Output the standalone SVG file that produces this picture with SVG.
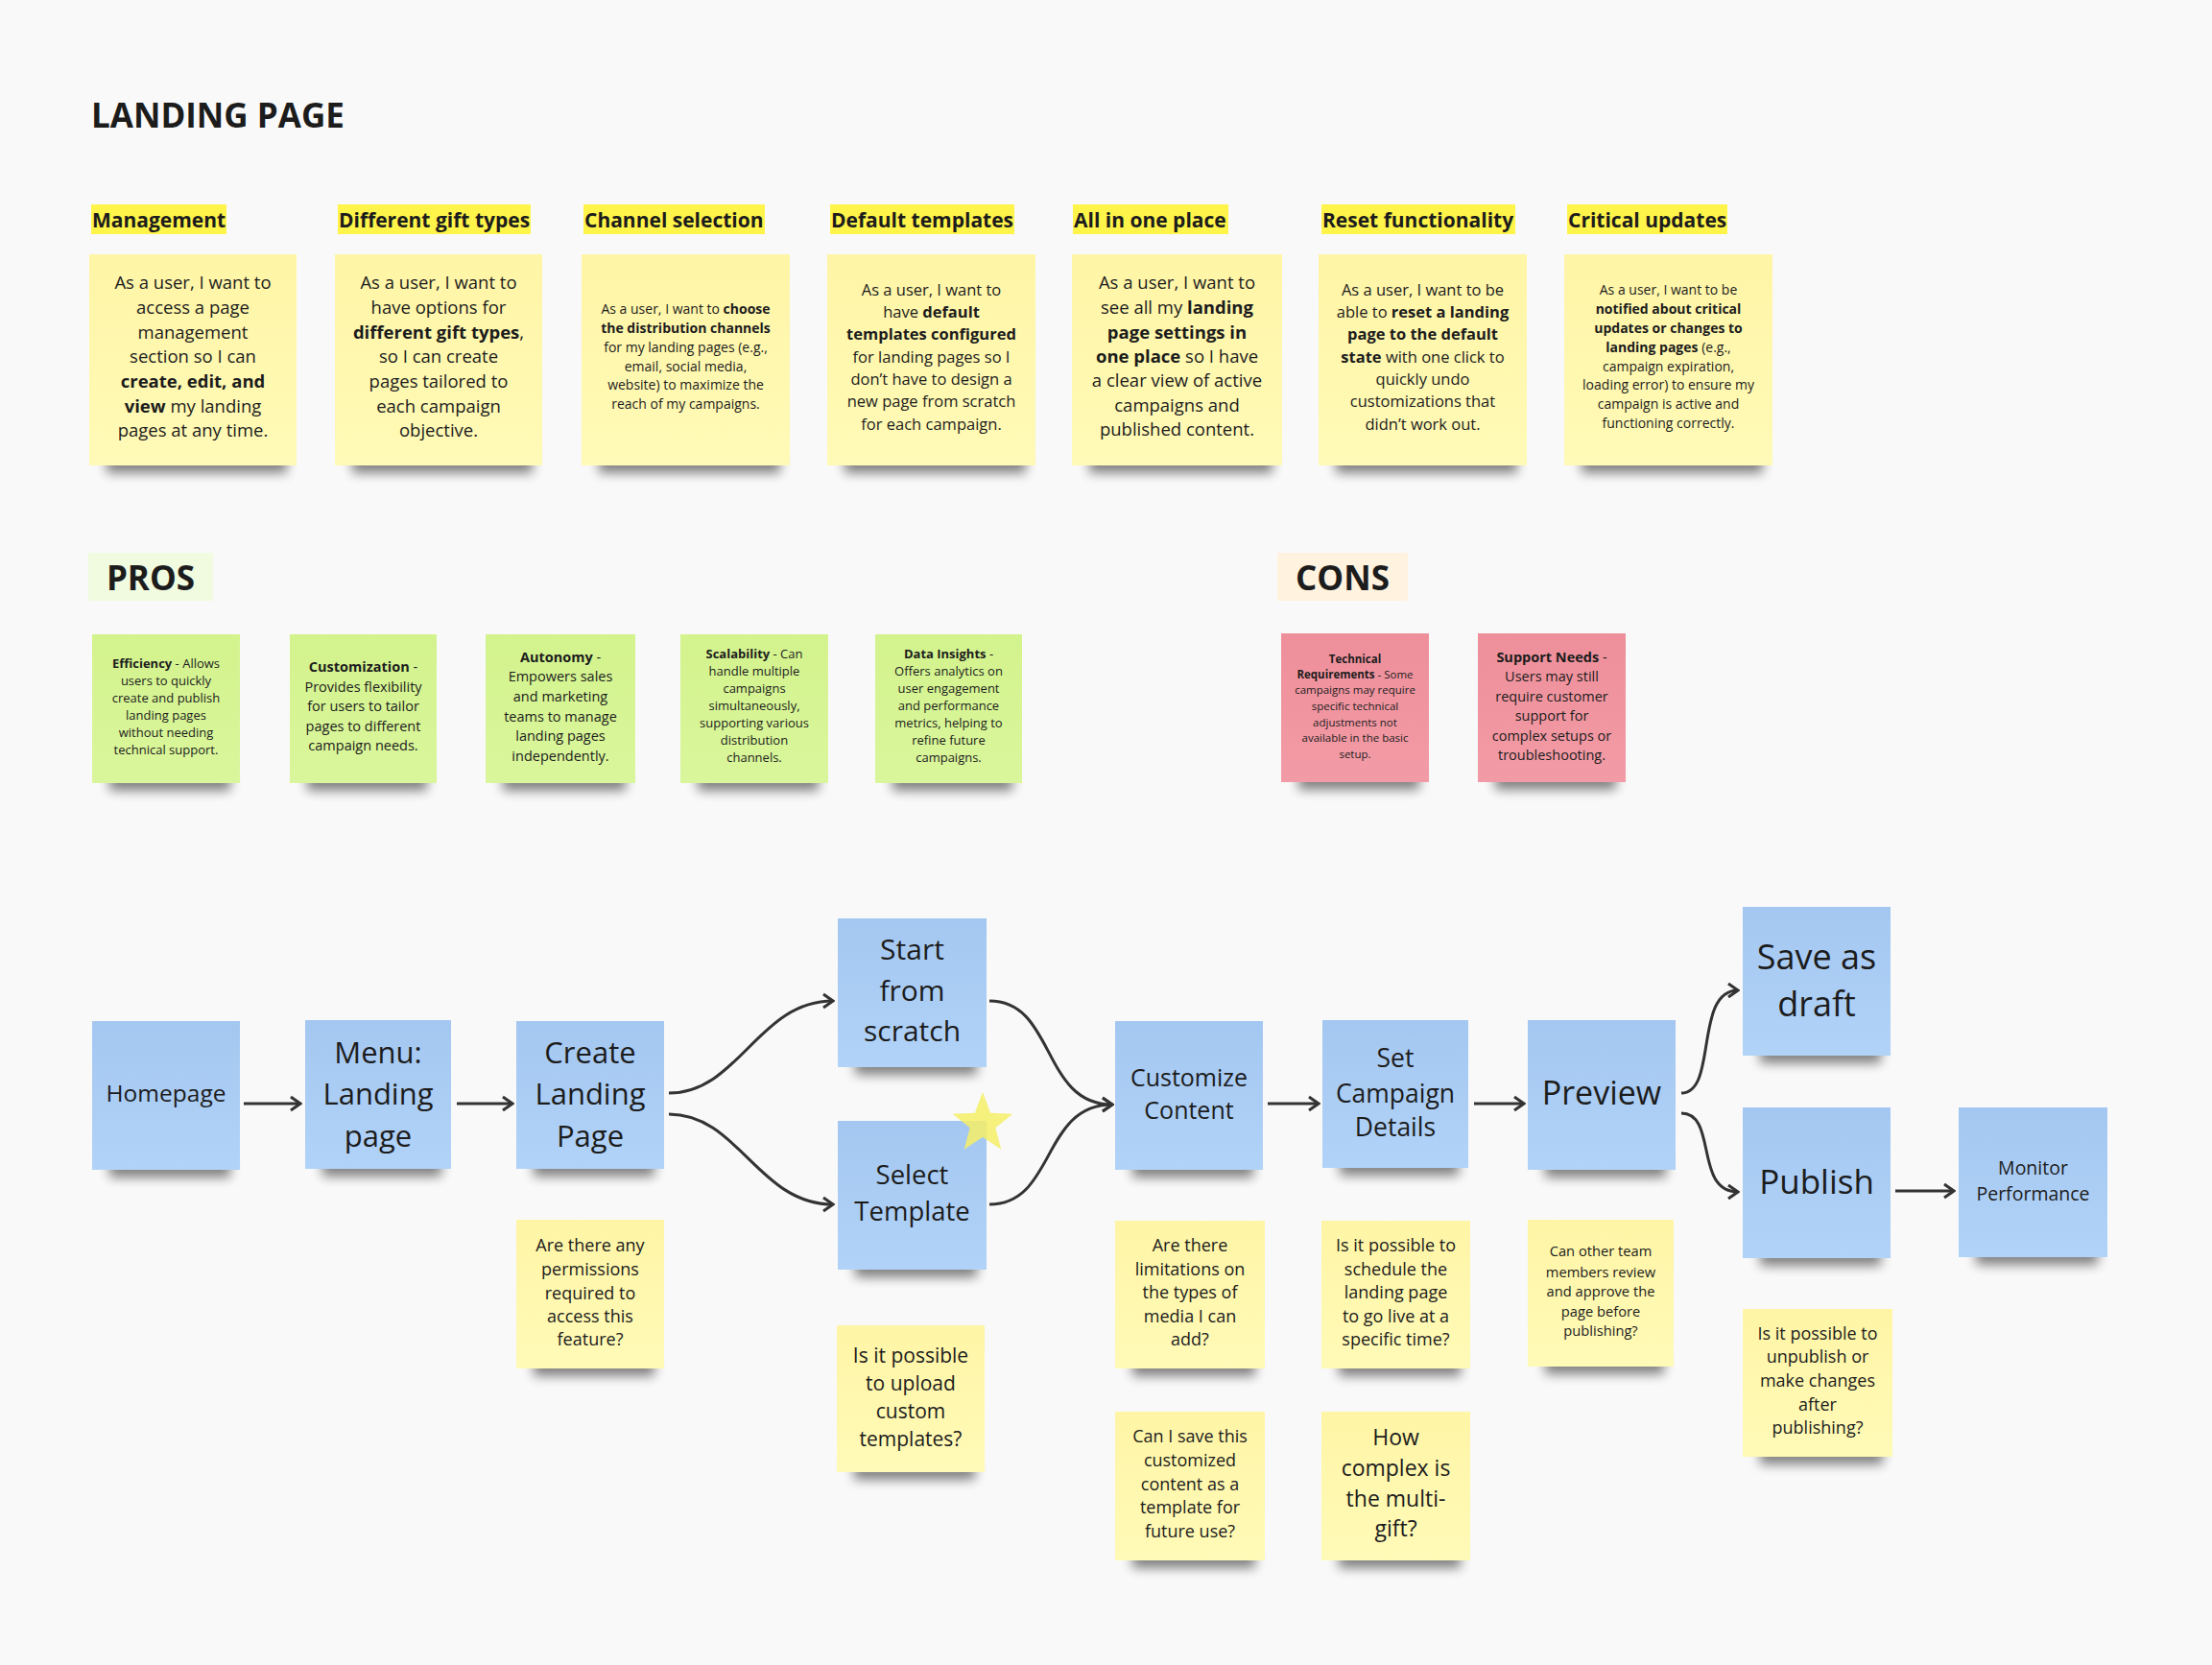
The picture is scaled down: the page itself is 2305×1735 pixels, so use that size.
<svg xmlns="http://www.w3.org/2000/svg" width="2305" height="1735" viewBox="0 0 2305 1735">
<defs>
<style>
.t{font-family:"Open Sans","Noto Sans","Liberation Sans",sans-serif;fill:#1c1c1c;text-anchor:middle}
.h{font-family:"Open Sans","Noto Sans","Liberation Sans",sans-serif;fill:#1c1c1c;font-weight:700}
.b{font-weight:700}
.shd{fill:#000;opacity:.48;filter:url(#blur)}
.cy{fill:url(#gy)}
.cb{fill:url(#gb)}
.cg{fill:url(#gg)}
.cp{fill:url(#gp)}
.hl{fill:#fff44a}
.conn path{fill:none;stroke:#333;stroke-width:3;marker-end:url(#ah)}
</style>
<filter id="blur" x="-20%" y="-150%" width="140%" height="400%"><feGaussianBlur stdDeviation="6"/></filter>
<linearGradient id="gy" x1="0" y1="0" x2="0" y2="1"><stop offset="0" stop-color="#fff5a6"/><stop offset="1" stop-color="#fffab7"/></linearGradient>
<linearGradient id="gb" x1="0" y1="0" x2="0" y2="1"><stop offset="0" stop-color="#a4c7f1"/><stop offset="1" stop-color="#b1d3f8"/></linearGradient>
<linearGradient id="gg" x1="0" y1="0" x2="0" y2="1"><stop offset="0" stop-color="#d3f38d"/><stop offset="1" stop-color="#daf69c"/></linearGradient>
<linearGradient id="gp" x1="0" y1="0" x2="0" y2="1"><stop offset="0" stop-color="#ee8f9a"/><stop offset="1" stop-color="#f29ba6"/></linearGradient>
<marker id="ah" markerUnits="userSpaceOnUse" viewBox="0 0 14 18" refX="12" refY="9" markerWidth="14" markerHeight="18" orient="auto"><path d="M2,2 L12,9 L2,16" fill="none" stroke="#333" stroke-width="3"/></marker>
</defs>
<rect width="2305" height="1735" fill="#f9f9f9"/>

<g id="title"><text class="h" x="95" y="133" font-size="35">LANDING PAGE</text></g>

<g id="headers" font-size="21">
<g id="h-management"><rect class="hl" x="95" y="213" width="141" height="31"/><text class="h" x="96" y="237" font-size="21">Management</text></g>
<g id="h-gifts"><rect class="hl" x="352" y="213" width="201" height="31"/><text class="h" x="353" y="237" font-size="21">Different gift types</text></g>
<g id="h-channel"><rect class="hl" x="608" y="213" width="189" height="31"/><text class="h" x="609" y="237" font-size="21">Channel selection</text></g>
<g id="h-default"><rect class="hl" x="865" y="213" width="192" height="31"/><text class="h" x="866" y="237" font-size="21">Default templates</text></g>
<g id="h-allinone"><rect class="hl" x="1118" y="213" width="162" height="31"/><text class="h" x="1119" y="237" font-size="21">All in one place</text></g>
<g id="h-reset"><rect class="hl" x="1377" y="213" width="202" height="31"/><text class="h" x="1378" y="237" font-size="21">Reset functionality</text></g>
<g id="h-critical"><rect class="hl" x="1633" y="213" width="167" height="31"/><text class="h" x="1634" y="237" font-size="21">Critical updates</text></g>
</g>

<g id="story-management"><rect class="shd" x="111" y="473" width="188" height="20"/><rect class="cy" x="93" y="265" width="216" height="220"/>
<text class="t" font-size="18.5"><tspan x="201" y="301">As a user, I want to</tspan><tspan x="201" y="327">access a page</tspan><tspan x="201" y="353">management</tspan><tspan x="201" y="378">section so I can</tspan><tspan x="201" y="404" class="b">create, edit, and</tspan><tspan x="201" y="430"><tspan class="b">view</tspan> my landing</tspan><tspan x="201" y="455">pages at any time.</tspan></text></g>

<g id="story-gifts"><rect class="shd" x="367" y="473" width="188" height="20"/><rect class="cy" x="349" y="265" width="216" height="220"/>
<text class="t" font-size="18.5"><tspan x="457" y="301">As a user, I want to</tspan><tspan x="457" y="327">have options for</tspan><tspan x="457" y="353"><tspan class="b">different gift types</tspan>,</tspan><tspan x="457" y="378">so I can create</tspan><tspan x="457" y="404">pages tailored to</tspan><tspan x="457" y="430">each campaign</tspan><tspan x="457" y="455">objective.</tspan></text></g>

<g id="story-channel"><rect class="shd" x="624" y="473" width="189" height="20"/><rect class="cy" x="606" y="265" width="217" height="220"/>
<text class="t" font-size="14"><tspan x="714.5" y="327">As a user, I want to <tspan class="b">choose</tspan></tspan><tspan x="714.5" y="347" class="b">the distribution channels</tspan><tspan x="714.5" y="367">for my landing pages (e.g.,</tspan><tspan x="714.5" y="386.5">email, social media,</tspan><tspan x="714.5" y="406">website) to maximize the</tspan><tspan x="714.5" y="426">reach of my campaigns.</tspan></text></g>

<g id="story-default"><rect class="shd" x="880" y="473" width="189" height="20"/><rect class="cy" x="862" y="265" width="217" height="220"/>
<text class="t" font-size="16.5"><tspan x="970.5" y="307.5">As a user, I want to</tspan><tspan x="970.5" y="331">have <tspan class="b">default</tspan></tspan><tspan x="970.5" y="354" class="b">templates configured</tspan><tspan x="970.5" y="377.5">for landing pages so I</tspan><tspan x="970.5" y="401">don’t have to design a</tspan><tspan x="970.5" y="424">new page from scratch</tspan><tspan x="970.5" y="447.5">for each campaign.</tspan></text></g>

<g id="story-allinone"><rect class="shd" x="1135" y="473" width="191" height="20"/><rect class="cy" x="1117" y="265" width="219" height="220"/>
<text class="t" font-size="18.5"><tspan x="1226.5" y="301">As a user, I want to</tspan><tspan x="1226.5" y="327">see all my <tspan class="b">landing</tspan></tspan><tspan x="1226.5" y="353" class="b">page settings in</tspan><tspan x="1226.5" y="378"><tspan class="b">one place</tspan> so I have</tspan><tspan x="1226.5" y="403">a clear view of active</tspan><tspan x="1226.5" y="429">campaigns and</tspan><tspan x="1226.5" y="454">published content.</tspan></text></g>

<g id="story-reset"><rect class="shd" x="1392" y="473" width="189" height="20"/><rect class="cy" x="1374" y="265" width="217" height="220"/>
<text class="t" font-size="16.5"><tspan x="1482.5" y="307.5">As a user, I want to be</tspan><tspan x="1482.5" y="331">able to <tspan class="b">reset a landing</tspan></tspan><tspan x="1482.5" y="354" class="b">page to the default</tspan><tspan x="1482.5" y="378"><tspan class="b">state</tspan> with one click to</tspan><tspan x="1482.5" y="401">quickly undo</tspan><tspan x="1482.5" y="424">customizations that</tspan><tspan x="1482.5" y="448">didn’t work out.</tspan></text></g>

<g id="story-critical"><rect class="shd" x="1648" y="473" width="189" height="20"/><rect class="cy" x="1630" y="265" width="217" height="220"/>
<text class="t" font-size="14"><tspan x="1738.5" y="307">As a user, I want to be</tspan><tspan x="1738.5" y="327" class="b">notified about critical</tspan><tspan x="1738.5" y="347" class="b">updates or changes to</tspan><tspan x="1738.5" y="367"><tspan class="b">landing pages</tspan> (e.g.,</tspan><tspan x="1738.5" y="386.5">campaign expiration,</tspan><tspan x="1738.5" y="406">loading error) to ensure my</tspan><tspan x="1738.5" y="426">campaign is active and</tspan><tspan x="1738.5" y="446">functioning correctly.</tspan></text></g>

<g id="pros-label"><rect x="92" y="576" width="130" height="50" fill="#f0fbdf"/><text class="t b" x="157" y="615" font-size="35">PROS</text></g>
<g id="cons-label"><rect x="1331" y="576" width="136" height="50" fill="#fff3e0"/><text class="t b" x="1399" y="615" font-size="35">CONS</text></g>

<g id="pro-efficiency"><rect class="shd" x="114" y="804" width="126" height="20"/><rect class="cg" x="96" y="661" width="154" height="155"/>
<text class="t" font-size="13"><tspan x="173" y="696"><tspan class="b">Efficiency</tspan> - Allows</tspan><tspan x="173" y="714">users to quickly</tspan><tspan x="173" y="732">create and publish</tspan><tspan x="173" y="750">landing pages</tspan><tspan x="173" y="768">without needing</tspan><tspan x="173" y="786">technical support.</tspan></text></g>

<g id="pro-customization"><rect class="shd" x="320" y="804" width="125" height="20"/><rect class="cg" x="302" y="661" width="153" height="155"/>
<text class="t" font-size="14.5"><tspan x="378.5" y="700"><tspan class="b">Customization</tspan> -</tspan><tspan x="378.5" y="721">Provides flexibility</tspan><tspan x="378.5" y="741">for users to tailor</tspan><tspan x="378.5" y="762">pages to different</tspan><tspan x="378.5" y="782">campaign needs.</tspan></text></g>

<g id="pro-autonomy"><rect class="shd" x="524" y="804" width="128" height="20"/><rect class="cg" x="506" y="661" width="156" height="155"/>
<text class="t" font-size="14.5"><tspan x="584" y="690"><tspan class="b">Autonomy</tspan> -</tspan><tspan x="584" y="710">Empowers sales</tspan><tspan x="584" y="730.5">and marketing</tspan><tspan x="584" y="751.5">teams to manage</tspan><tspan x="584" y="772">landing pages</tspan><tspan x="584" y="792.5">independently.</tspan></text></g>

<g id="pro-scalability"><rect class="shd" x="727" y="804" width="126" height="20"/><rect class="cg" x="709" y="661" width="154" height="155"/>
<text class="t" font-size="13"><tspan x="786" y="686"><tspan class="b">Scalability</tspan> - Can</tspan><tspan x="786" y="704">handle multiple</tspan><tspan x="786" y="722">campaigns</tspan><tspan x="786" y="740">simultaneously,</tspan><tspan x="786" y="758">supporting various</tspan><tspan x="786" y="776">distribution</tspan><tspan x="786" y="794">channels.</tspan></text></g>

<g id="pro-insights"><rect class="shd" x="930" y="804" width="125" height="20"/><rect class="cg" x="912" y="661" width="153" height="155"/>
<text class="t" font-size="13"><tspan x="988.5" y="686"><tspan class="b">Data Insights</tspan> -</tspan><tspan x="988.5" y="704">Offers analytics on</tspan><tspan x="988.5" y="722">user engagement</tspan><tspan x="988.5" y="740">and performance</tspan><tspan x="988.5" y="758">metrics, helping to</tspan><tspan x="988.5" y="776">refine future</tspan><tspan x="988.5" y="794">campaigns.</tspan></text></g>

<g id="con-technical"><rect class="shd" x="1353" y="803" width="126" height="20"/><rect class="cp" x="1335" y="660" width="154" height="155"/>
<text class="t" font-size="11.5"><tspan x="1412" y="690.5" class="b">Technical</tspan><tspan x="1412" y="706.5"><tspan class="b">Requirements</tspan> - Some</tspan><tspan x="1412" y="723">campaigns may require</tspan><tspan x="1412" y="740">specific technical</tspan><tspan x="1412" y="756.5">adjustments not</tspan><tspan x="1412" y="773">available in the basic</tspan><tspan x="1412" y="790">setup.</tspan></text></g>

<g id="con-support"><rect class="shd" x="1558" y="803" width="126" height="20"/><rect class="cp" x="1540" y="660" width="154" height="155"/>
<text class="t" font-size="14.5"><tspan x="1617" y="690"><tspan class="b">Support Needs</tspan> -</tspan><tspan x="1617" y="710">Users may still</tspan><tspan x="1617" y="730.5">require customer</tspan><tspan x="1617" y="751">support for</tspan><tspan x="1617" y="771.5">complex setups or</tspan><tspan x="1617" y="791.5">troubleshooting.</tspan></text></g>

<g id="connectors" class="conn">
<path d="M254,1150 H313"/>
<path d="M476,1150 H534"/>
<path d="M697,1139 C770,1139 790,1043 868,1043"/>
<path d="M697,1161 C770,1161 790,1255 868,1255"/>
<path d="M1031,1043 C1100,1043 1085,1151 1159,1151"/>
<path d="M1031,1255 C1100,1255 1085,1151 1159,1151"/>
<path d="M1321,1150 H1374"/>
<path d="M1536,1150 H1588"/>
<path d="M1752,1139 C1790,1139 1765,1032 1811,1032"/>
<path d="M1752,1160 C1790,1160 1765,1242 1811,1242"/>
<path d="M1975,1241 H2036"/>
</g>

<g id="n-homepage"><rect class="shd" x="114" y="1207" width="126" height="20"/><rect class="cb" x="96" y="1064" width="154" height="155"/><text class="t" x="173" y="1148" font-size="24.5">Homepage</text></g>
<g id="n-menu"><rect class="shd" x="336" y="1206" width="124" height="20"/><rect class="cb" x="318" y="1063" width="152" height="155"/><text class="t" font-size="31"><tspan x="394" y="1107.5">Menu:</tspan><tspan x="394" y="1151">Landing</tspan><tspan x="394" y="1194.5">page</tspan></text></g>
<g id="n-create"><rect class="shd" x="556" y="1206" width="126" height="20"/><rect class="cb" x="538" y="1064" width="154" height="154"/><text class="t" font-size="31"><tspan x="615" y="1107.5">Create</tspan><tspan x="615" y="1151">Landing</tspan><tspan x="615" y="1194.5">Page</tspan></text></g>
<g id="n-scratch"><rect class="shd" x="891" y="1100" width="127" height="20"/><rect class="cb" x="873" y="957" width="155" height="155"/><text class="t" font-size="30"><tspan x="950.5" y="1000">Start</tspan><tspan x="950.5" y="1043">from</tspan><tspan x="950.5" y="1085">scratch</tspan></text></g>
<g id="n-template"><rect class="shd" x="891" y="1311" width="127" height="20"/><rect class="cb" x="873" y="1168" width="155" height="155"/><text class="t" font-size="27.5"><tspan x="950.5" y="1234">Select</tspan><tspan x="950.5" y="1272">Template</tspan></text></g>
<g id="n-customize"><rect class="shd" x="1180" y="1207" width="126" height="20"/><rect class="cb" x="1162" y="1064" width="154" height="155"/><text class="t" font-size="25"><tspan x="1239" y="1131.5">Customize</tspan><tspan x="1239" y="1165.5">Content</tspan></text></g>
<g id="n-campaign"><rect class="shd" x="1396" y="1205" width="124" height="20"/><rect class="cb" x="1378" y="1063" width="152" height="154"/><text class="t" font-size="26.5"><tspan x="1454" y="1112">Set</tspan><tspan x="1454" y="1149">Campaign</tspan><tspan x="1454" y="1184">Details</tspan></text></g>
<g id="n-preview"><rect class="shd" x="1610" y="1207" width="126" height="20"/><rect class="cb" x="1592" y="1063" width="154" height="156"/><text class="t" x="1669" y="1151" font-size="34">Preview</text></g>
<g id="n-draft"><rect class="shd" x="1834" y="1088" width="126" height="20"/><rect class="cb" x="1816" y="945" width="154" height="155"/><text class="t" font-size="36"><tspan x="1893" y="1010">Save as</tspan><tspan x="1893" y="1059">draft</tspan></text></g>
<g id="n-publish"><rect class="shd" x="1834" y="1299" width="126" height="20"/><rect class="cb" x="1816" y="1154" width="154" height="157"/><text class="t" x="1893" y="1244" font-size="35">Publish</text></g>
<g id="n-monitor"><rect class="shd" x="2059" y="1298" width="127" height="20"/><rect class="cb" x="2041" y="1154" width="155" height="156"/><text class="t" font-size="19.5"><tspan x="2118.5" y="1223.5">Monitor</tspan><tspan x="2118.5" y="1250.5">Performance</tspan></text></g>

<g id="star"><polygon points="1024,1138 1032.2,1159.7 1055.4,1160.8 1037.3,1175.3 1043.4,1197.7 1024,1185 1004.6,1197.7 1010.7,1175.3 992.6,1160.8 1015.8,1159.7" fill="#f6ee66" opacity="0.85"/></g>

<g id="q-permissions"><rect class="shd" x="556" y="1414" width="126" height="20"/><rect class="cy" x="538" y="1271" width="154" height="155"/><text class="t" font-size="18"><tspan x="615" y="1304">Are there any</tspan><tspan x="615" y="1329">permissions</tspan><tspan x="615" y="1354">required to</tspan><tspan x="615" y="1378">access this</tspan><tspan x="615" y="1402">feature?</tspan></text></g>
<g id="q-upload"><rect class="shd" x="890" y="1522" width="126" height="20"/><rect class="cy" x="872" y="1381" width="154" height="153"/><text class="t" font-size="21"><tspan x="949" y="1420">Is it possible</tspan><tspan x="949" y="1449">to upload</tspan><tspan x="949" y="1478">custom</tspan><tspan x="949" y="1507">templates?</tspan></text></g>
<g id="q-media"><rect class="shd" x="1180" y="1414" width="128" height="20"/><rect class="cy" x="1162" y="1272" width="156" height="154"/><text class="t" font-size="18"><tspan x="1240" y="1304">Are there</tspan><tspan x="1240" y="1329">limitations on</tspan><tspan x="1240" y="1353">the types of</tspan><tspan x="1240" y="1378">media I can</tspan><tspan x="1240" y="1402">add?</tspan></text></g>
<g id="q-schedule"><rect class="shd" x="1395" y="1414" width="127" height="20"/><rect class="cy" x="1377" y="1272" width="155" height="154"/><text class="t" font-size="18"><tspan x="1454.5" y="1304">Is it possible to</tspan><tspan x="1454.5" y="1329">schedule the</tspan><tspan x="1454.5" y="1353">landing page</tspan><tspan x="1454.5" y="1378">to go live at a</tspan><tspan x="1454.5" y="1402">specific time?</tspan></text></g>
<g id="q-save-template"><rect class="shd" x="1180" y="1614" width="128" height="20"/><rect class="cy" x="1162" y="1471" width="156" height="155"/><text class="t" font-size="18"><tspan x="1240" y="1503">Can I save this</tspan><tspan x="1240" y="1528">customized</tspan><tspan x="1240" y="1553">content as a</tspan><tspan x="1240" y="1577">template for</tspan><tspan x="1240" y="1602">future use?</tspan></text></g>
<g id="q-multigift"><rect class="shd" x="1395" y="1614" width="127" height="20"/><rect class="cy" x="1377" y="1471" width="155" height="155"/><text class="t" font-size="23"><tspan x="1454.5" y="1505.5">How</tspan><tspan x="1454.5" y="1537.5">complex is</tspan><tspan x="1454.5" y="1569.5">the multi-</tspan><tspan x="1454.5" y="1600.5">gift?</tspan></text></g>
<g id="q-review"><rect class="shd" x="1610" y="1412" width="124" height="20"/><rect class="cy" x="1592" y="1271" width="152" height="153"/><text class="t" font-size="14.7"><tspan x="1668" y="1309">Can other team</tspan><tspan x="1668" y="1331">members review</tspan><tspan x="1668" y="1351">and approve the</tspan><tspan x="1668" y="1372">page before</tspan><tspan x="1668" y="1392">publishing?</tspan></text></g>
<g id="q-unpublish"><rect class="shd" x="1834" y="1506" width="128" height="20"/><rect class="cy" x="1816" y="1364" width="156" height="154"/><text class="t" font-size="18"><tspan x="1894" y="1396">Is it possible to</tspan><tspan x="1894" y="1420">unpublish or</tspan><tspan x="1894" y="1445">make changes</tspan><tspan x="1894" y="1470">after</tspan><tspan x="1894" y="1494">publishing?</tspan></text></g>
</svg>
